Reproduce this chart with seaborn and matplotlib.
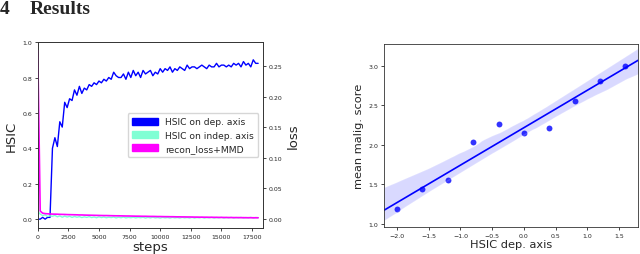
import numpy as np
import pandas as pd
import matplotlib
matplotlib.use("Agg")
import matplotlib.pyplot as plt
from matplotlib.patches import Patch
import seaborn as sns

# training curves (every 200 steps)
steps = list(range(0, 18001, 200))
hsic_dep = [
    0.00, 0.00, 0.01, 0.00, 0.01, 0.01, 0.40, 0.46, 0.41, 0.55,
    0.52, 0.66, 0.63, 0.68, 0.67, 0.73, 0.70, 0.75, 0.71, 0.74,
    0.73, 0.76, 0.75, 0.77, 0.76, 0.78, 0.77, 0.79, 0.78, 0.80,
    0.79, 0.83, 0.81, 0.80, 0.80, 0.82, 0.79, 0.83, 0.80, 0.84,
    0.81, 0.83, 0.80, 0.84, 0.82, 0.83, 0.84, 0.81, 0.83, 0.82,
    0.85, 0.83, 0.85, 0.84, 0.86, 0.83, 0.85, 0.84, 0.86, 0.85,
    0.84, 0.87, 0.85, 0.86, 0.86, 0.85, 0.86, 0.87, 0.86, 0.85,
    0.87, 0.86, 0.86, 0.88, 0.86, 0.87, 0.87, 0.86, 0.87, 0.86,
    0.88, 0.87, 0.88, 0.86, 0.89, 0.87, 0.88, 0.86, 0.90, 0.88,
    0.88,
]
hsic_indep = [
    0.045, 0.028, 0.020, 0.024, 0.015, 0.019, 0.016, 0.021, 0.013, 0.018,
    0.011, 0.017, 0.012, 0.016, 0.010, 0.015, 0.011, 0.014, 0.009, 0.013,
    0.010, 0.014, 0.009, 0.012, 0.008, 0.013, 0.009, 0.012, 0.008, 0.011,
    0.009, 0.012, 0.007, 0.011, 0.008, 0.012, 0.007, 0.010, 0.008, 0.011,
    0.007, 0.010, 0.008, 0.011, 0.006, 0.010, 0.007, 0.011, 0.007, 0.009,
    0.006, 0.010, 0.007, 0.009, 0.006, 0.010, 0.007, 0.009, 0.006, 0.010,
    0.007, 0.009, 0.006, 0.010, 0.006, 0.009, 0.007, 0.010, 0.006, 0.009,
    0.007, 0.010, 0.006, 0.009, 0.007, 0.010, 0.006, 0.009, 0.007, 0.010,
    0.006, 0.009, 0.007, 0.010, 0.006, 0.009, 0.007, 0.010, 0.006, 0.009,
    0.008,
]
loss = [
    0.275, 0.013, 0.0095, 0.0088, 0.0085, 0.0082, 0.0080, 0.0079, 0.0078, 0.0076,
    0.0075, 0.0074, 0.0072, 0.0071, 0.0070, 0.0069, 0.0068, 0.0066, 0.0066, 0.0064,
    0.0063, 0.0062, 0.0061, 0.0060, 0.0059, 0.0058, 0.0057, 0.0056, 0.0056, 0.0055,
    0.0054, 0.0053, 0.0052, 0.0052, 0.0051, 0.0050, 0.0049, 0.0049, 0.0048, 0.0047,
    0.0046, 0.0046, 0.0045, 0.0044, 0.0044, 0.0043, 0.0042, 0.0042, 0.0041, 0.0040,
    0.0040, 0.0039, 0.0038, 0.0038, 0.0037, 0.0037, 0.0036, 0.0035, 0.0035, 0.0034,
    0.0034, 0.0033, 0.0033, 0.0032, 0.0031, 0.0031, 0.0030, 0.0030, 0.0029, 0.0029,
    0.0028, 0.0028, 0.0027, 0.0027, 0.0026, 0.0026, 0.0025, 0.0025, 0.0024, 0.0024,
    0.0023, 0.0023, 0.0023, 0.0022, 0.0022, 0.0021, 0.0021, 0.0021, 0.0020, 0.0020,
    0.0020,
]

# HSIC dependent axis vs mean malignancy score
hsic_axis = [-2.0, -1.6, -1.2, -0.8, -0.4, 0.0, 0.4, 0.8, 1.2, 1.6]
malig_score = [1.19, 1.44, 1.56, 2.04, 2.26, 2.15, 2.22, 2.56, 2.81, 3.00]

c_dep = "#0000ff"
c_indep = "#7fffd4"
c_loss = "#ff00ff"

sns.set_style("ticks")
plt.rcParams["font.family"] = ["DejaVu Sans"]

fig = plt.figure(figsize=(6.4, 2.55), dpi=100)
fig.text(0.0, 0.998, "4", fontsize=14, fontweight="bold",
         family="Liberation Serif", va="top", ha="left")
fig.text(0.047, 0.998, "Results", fontsize=14, fontweight="bold",
         family="Liberation Serif", va="top", ha="left")

curves = pd.DataFrame({"steps": steps, "dep": hsic_dep,
                       "indep": hsic_indep, "loss": loss})

ax = fig.add_axes([0.059, 0.102, 0.352, 0.729])
sns.lineplot(data=curves, x="steps", y="dep", color=c_dep, lw=1.0, ax=ax)
sns.lineplot(data=curves, x="steps", y="indep", color=c_indep, lw=1.0, ax=ax)
ax.set_xlim(0, 18400)
ax.set_ylim(-0.05, 1.0)
ax.set_xticks([0, 2500, 5000, 7500, 10000, 12500, 15000, 17500])
ax.set_yticks([0.0, 0.2, 0.4, 0.6, 0.8, 1.0])
ax.set_xlabel("steps", fontsize=9.5, labelpad=1)
ax.set_ylabel("HSIC", fontsize=9.5, labelpad=3)
ax.tick_params(labelsize=4.5, length=2.5, width=0.6, pad=1.5)

ax2 = ax.twinx()
sns.lineplot(data=curves, x="steps", y="loss", color=c_loss, lw=1.2, ax=ax2)
ax2.set_ylim(-0.0147, 0.289)
ax2.set_yticks([0.0, 0.05, 0.10, 0.15, 0.20, 0.25])
ax2.set_ylabel("loss", fontsize=9.5, labelpad=3)
ax2.tick_params(labelsize=4.5, length=2.5, width=0.6, pad=1.5)
for a in (ax, ax2):
    for s in a.spines.values():
        s.set_linewidth(0.6)
        s.set_color("#333333")

handles = [Patch(color=c_dep, label="HSIC on dep. axis"),
           Patch(color=c_indep, label="HSIC on indep. axis"),
           Patch(color=c_loss, label="recon_loss+MMD")]
ax2.legend(handles=handles, loc="center right", fontsize=6.6,
           handlelength=2.8, handleheight=0.8, borderpad=0.5,
           labelspacing=0.45, frameon=True, fancybox=True, framealpha=0.8)

# regression panel
bx = fig.add_axes([0.600, 0.106, 0.397, 0.718])
bx.set_xlim(-2.205, 1.80)
sns.regplot(x=hsic_axis, y=malig_score, color=c_dep, ax=bx, truncate=False,
            ci=97, seed=0, scatter_kws={"s": 18, "linewidths": 0},
            line_kws={"lw": 1.2})
bx.set_ylim(0.96, 3.28)
bx.set_xticks([-2.0, -1.5, -1.0, -0.5, 0.0, 0.5, 1.0, 1.5])
bx.set_yticks([1.0, 1.5, 2.0, 2.5, 3.0])
bx.set_xlabel("HSIC dep. axis", fontsize=8.2, labelpad=1)
bx.set_ylabel("mean malig. score", fontsize=8.2, labelpad=3)
bx.tick_params(labelsize=4.5, length=2.5, width=0.6, pad=1.5)
for s in bx.spines.values():
    s.set_linewidth(0.6)
    s.set_color("#333333")

fig.savefig("out.png", dpi=100)
